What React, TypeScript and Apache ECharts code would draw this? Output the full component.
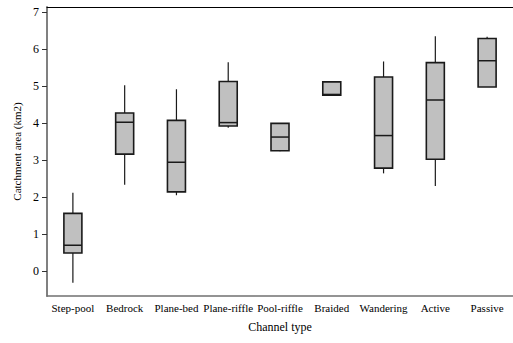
import React, { useEffect, useRef } from "react";
import * as echarts from "echarts";

const categories = ["Step-pool", "Bedrock", "Plane-bed", "Plane-riffle", "Pool-riffle", "Braided", "Wandering", "Active", "Passive"];
// [min, Q1, median, Q3, max]
const whiskerMin = [-0.31, 2.33, 2.05, 3.87, 3.24, 4.74, 2.64, 2.30, 4.97];
const q1 = [0.49, 3.16, 2.14, 3.92, 3.25, 4.75, 2.78, 3.02, 4.97];
const median = [0.70, 4.02, 2.94, 4.01, 3.62, 4.77, 3.66, 4.62, 5.68];
const q3 = [1.56, 4.27, 4.07, 5.12, 3.99, 5.11, 5.24, 5.63, 6.28];
const whiskerMax = [2.12, 5.02, 4.91, 5.64, 3.99, 5.11, 5.66, 6.34, 6.33];
const yTicks = [0, 1, 2, 3, 4, 5, 6, 7];

const FONT = "Liberation Serif";

export default function App() {
  const ref = useRef<HTMLDivElement>(null);
  useEffect(() => {
    if (!ref.current) return;
    const chart = echarts.init(ref.current, null, { renderer: "svg" });
    const data = categories.map((_, i) => [i, whiskerMin[i], q1[i], median[i], q3[i], whiskerMax[i]]);
    chart.setOption({
      animation: false,
      grid: { left: 47, top: 7, width: 472, height: 289, containLabel: false },
      xAxis: [
        {
          type: "category",
          data: categories,
          position: "bottom",
          name: "Channel type",
          nameLocation: "middle",
          nameGap: 25,
          nameTextStyle: { fontFamily: FONT, fontSize: 12, color: "#000" },
          axisLine: { onZero: false, lineStyle: { color: "#707070", width: 1.5 } },
          axisTick: { alignWithLabel: true, length: 4, lineStyle: { color: "#333" } },
          axisLabel: { fontFamily: FONT, fontSize: 11, color: "#000", margin: 6, interval: 0 },
          splitLine: { show: false },
        },
        {
          type: "category",
          data: categories,
          position: "top",
          axisLine: { onZero: false, lineStyle: { color: "#000", width: 1 } },
          axisTick: { show: false },
          axisLabel: { show: false },
          splitLine: { show: false },
        },
      ],
      yAxis: {
        type: "value",
        min: -0.67,
        max: 7.13,
        name: "Catchment area (km2)",
        nameLocation: "middle",
        nameGap: 25,
        nameRotate: 90,
        nameTextStyle: { fontFamily: FONT, fontSize: 11, color: "#000" },
        axisLine: { show: true, onZero: false, lineStyle: { color: "#808080", width: 2 } },
        axisTick: { show: true, length: 5, customValues: yTicks, lineStyle: { color: "#333" } },
        axisLabel: { fontFamily: FONT, fontSize: 12, color: "#000", margin: 8, customValues: yTicks },
        splitLine: { show: false },
      },
      series: [
        {
          type: "custom",
          data,
          encode: { x: 0, y: [1, 2, 3, 4, 5] },
          renderItem: (params: any, api: any) => {
            const idx = api.value(0);
            const pMin = api.coord([idx, api.value(1)]);
            const pQ1 = api.coord([idx, api.value(2)]);
            const pMed = api.coord([idx, api.value(3)]);
            const pQ3 = api.coord([idx, api.value(4)]);
            const pMax = api.coord([idx, api.value(5)]);
            const half = 9;
            const x = pQ1[0];
            const lineStyle = { stroke: "#1a1a1a", lineWidth: 1.2 };
            return {
              type: "group",
              children: [
                { type: "line", shape: { x1: x, y1: pMax[1], x2: x, y2: pQ3[1] }, style: lineStyle },
                { type: "line", shape: { x1: x, y1: pQ1[1], x2: x, y2: pMin[1] }, style: lineStyle },
                {
                  type: "rect",
                  shape: { x: x - half, y: pQ3[1], width: 2 * half, height: pQ1[1] - pQ3[1] },
                  style: { fill: "#c0c0c0", stroke: "#1a1a1a", lineWidth: 1.6 },
                },
                { type: "line", shape: { x1: x - half, y1: pMed[1], x2: x + half, y2: pMed[1] }, style: { stroke: "#1a1a1a", lineWidth: 1.5 } },
              ],
            };
          },
        },
      ],
    });
    return () => chart.dispose();
  }, []);
  return (
    <div
      ref={ref}
      style={{ position: "fixed", left: 0, top: 0, width: 513, height: 343, background: "#fff" }}
    />
  );
}
